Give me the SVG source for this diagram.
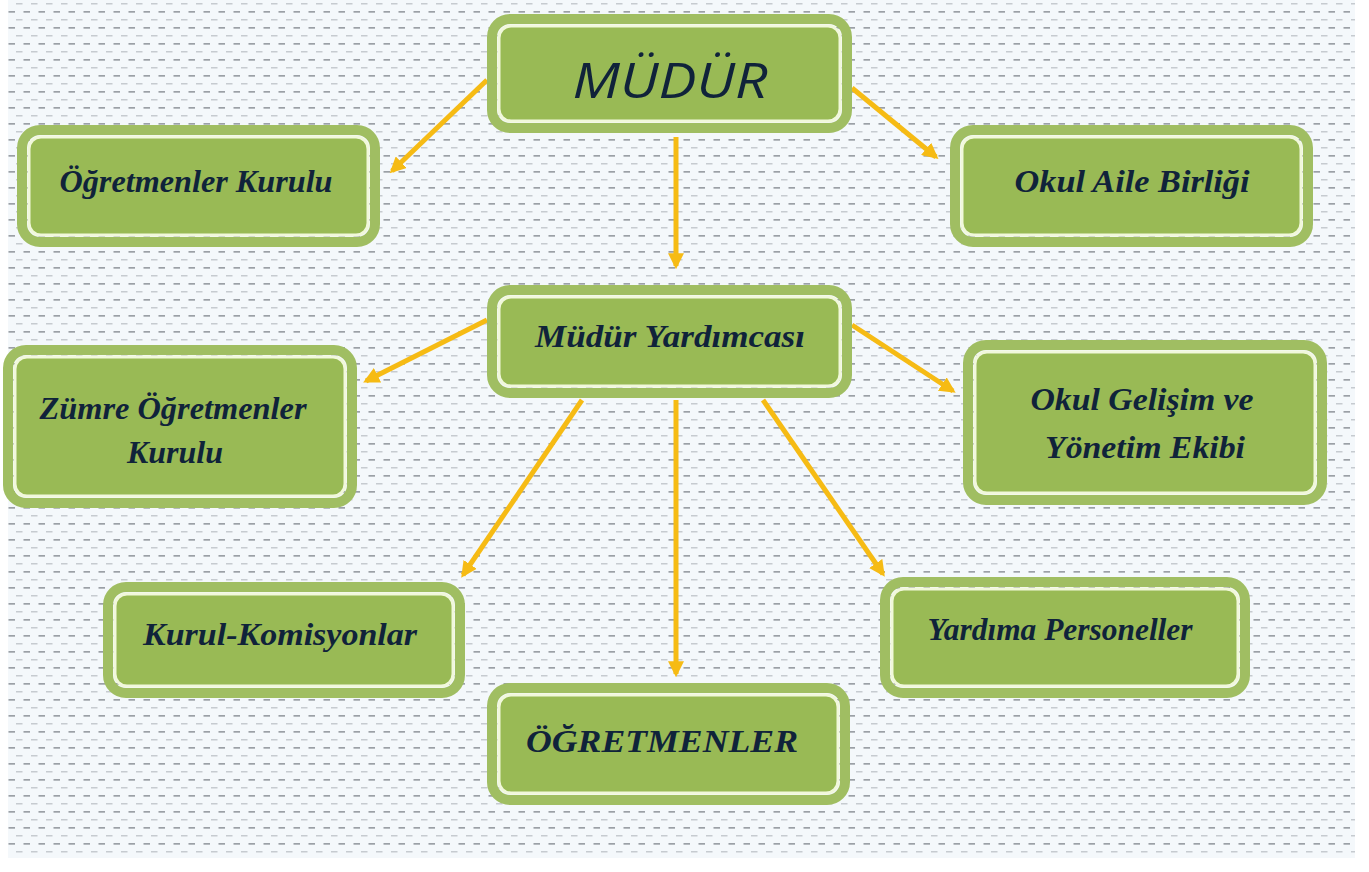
<svg xmlns="http://www.w3.org/2000/svg" width="1369" height="872" viewBox="0 0 1369 872">
<defs>
<pattern id="bg" width="15" height="16" patternUnits="userSpaceOnUse">
<rect width="15" height="16" fill="#f4f8fb"/>
<rect x="1" y="3" width="6.5" height="1.5" fill="#c6cbd0"/>
<rect x="8.5" y="11" width="6.5" height="1.7" fill="#9ba0a6"/>
</pattern>
<marker id="ah" viewBox="0 0 10 10" refX="8" refY="5" markerWidth="3.2" markerHeight="3.2" orient="auto" markerUnits="strokeWidth">
<path d="M0,0 L10,5 L0,10 z" fill="#f6bb14"/>
</marker>
</defs>
<style>
.outer{fill:none;stroke:#a0be62;stroke-width:10}
.inner{fill:#99ba55;stroke:#f1f8db;stroke-width:3}
.t{font-family:"Liberation Serif",serif;font-style:italic;font-weight:bold;font-size:32px;fill:#10233a;text-anchor:middle}
.big{font-family:"Open Sans","Liberation Sans",sans-serif;font-style:italic;font-size:50px;fill:#10233a;text-anchor:middle}
.conn line{stroke:#f6bb14;stroke-width:5;marker-end:url(#ah)}
</style>
<rect width="1369" height="872" fill="#ffffff"/>
<rect x="8" y="0" width="1347" height="858" fill="url(#bg)"/>

<g class="conn" id="connectors">
<line x1="487" y1="80" x2="392" y2="171"/>
<line x1="852" y1="88" x2="936" y2="157"/>
<line x1="676" y1="137" x2="676" y2="266"/>
<line x1="487" y1="320" x2="366" y2="381"/>
<line x1="852" y1="325" x2="953" y2="391"/>
<line x1="582" y1="400" x2="463" y2="575"/>
<line x1="676" y1="400" x2="676" y2="674"/>
<line x1="763" y1="400" x2="883" y2="574"/>
</g>

<g id="mudur">
<rect class="outer" x="492" y="19" width="355" height="109" rx="18"/>
<rect class="inner" x="499" y="26" width="341" height="95" rx="12"/>
<text class="big" x="670" y="98" textLength="195" lengthAdjust="spacingAndGlyphs">MÜDÜR</text>
</g>

<g id="ogretmenler-kurulu">
<rect class="outer" x="22" y="130" width="353" height="112" rx="18"/>
<rect class="inner" x="29" y="137" width="339" height="98" rx="12"/>
<text class="t" x="196" y="192" textLength="273" lengthAdjust="spacingAndGlyphs">Öğretmenler Kurulu</text>
</g>

<g id="okul-aile-birligi">
<rect class="outer" x="955" y="130" width="353" height="112" rx="18"/>
<rect class="inner" x="962" y="137" width="339" height="98" rx="12"/>
<text class="t" x="1132" y="192" textLength="235" lengthAdjust="spacingAndGlyphs">Okul Aile Birliği</text>
</g>

<g id="mudur-yardimcisi">
<rect class="outer" x="492" y="290" width="355" height="103" rx="18"/>
<rect class="inner" x="499" y="297" width="341" height="89" rx="12"/>
<text class="t" x="670" y="347" textLength="270" lengthAdjust="spacingAndGlyphs">Müdür Yardımcası</text>
</g>

<g id="zumre">
<rect class="outer" x="8" y="350" width="344" height="153" rx="18"/>
<rect class="inner" x="15" y="357" width="330" height="139" rx="12"/>
<text class="t" x="173" y="419" textLength="267" lengthAdjust="spacingAndGlyphs">Zümre Öğretmenler</text>
<text class="t" x="175" y="463">Kurulu</text>
</g>

<g id="okul-gelisim">
<rect class="outer" x="968" y="345" width="354" height="155" rx="18"/>
<rect class="inner" x="975" y="352" width="340" height="141" rx="12"/>
<text class="t" x="1142" y="410" textLength="223" lengthAdjust="spacingAndGlyphs">Okul Gelişim ve</text>
<text class="t" x="1145" y="458" textLength="200" lengthAdjust="spacingAndGlyphs">Yönetim Ekibi</text>
</g>

<g id="kurul-komisyonlar">
<rect class="outer" x="108" y="587" width="352" height="106" rx="18"/>
<rect class="inner" x="115" y="594" width="338" height="92" rx="12"/>
<text class="t" x="280" y="645" textLength="274" lengthAdjust="spacingAndGlyphs">Kurul-Komisyonlar</text>
</g>

<g id="yardima-personeller">
<rect class="outer" x="885" y="582" width="360" height="111" rx="18"/>
<rect class="inner" x="892" y="589" width="346" height="97" rx="12"/>
<text class="t" x="1060" y="640" textLength="265" lengthAdjust="spacingAndGlyphs">Yardıma Personeller</text>
</g>

<g id="ogretmenler">
<rect class="outer" x="492" y="688" width="353" height="112" rx="18"/>
<rect class="inner" x="499" y="695" width="339" height="98" rx="12"/>
<text class="t" x="662" y="752" textLength="272" lengthAdjust="spacingAndGlyphs">ÖĞRETMENLER</text>
</g>
</svg>
